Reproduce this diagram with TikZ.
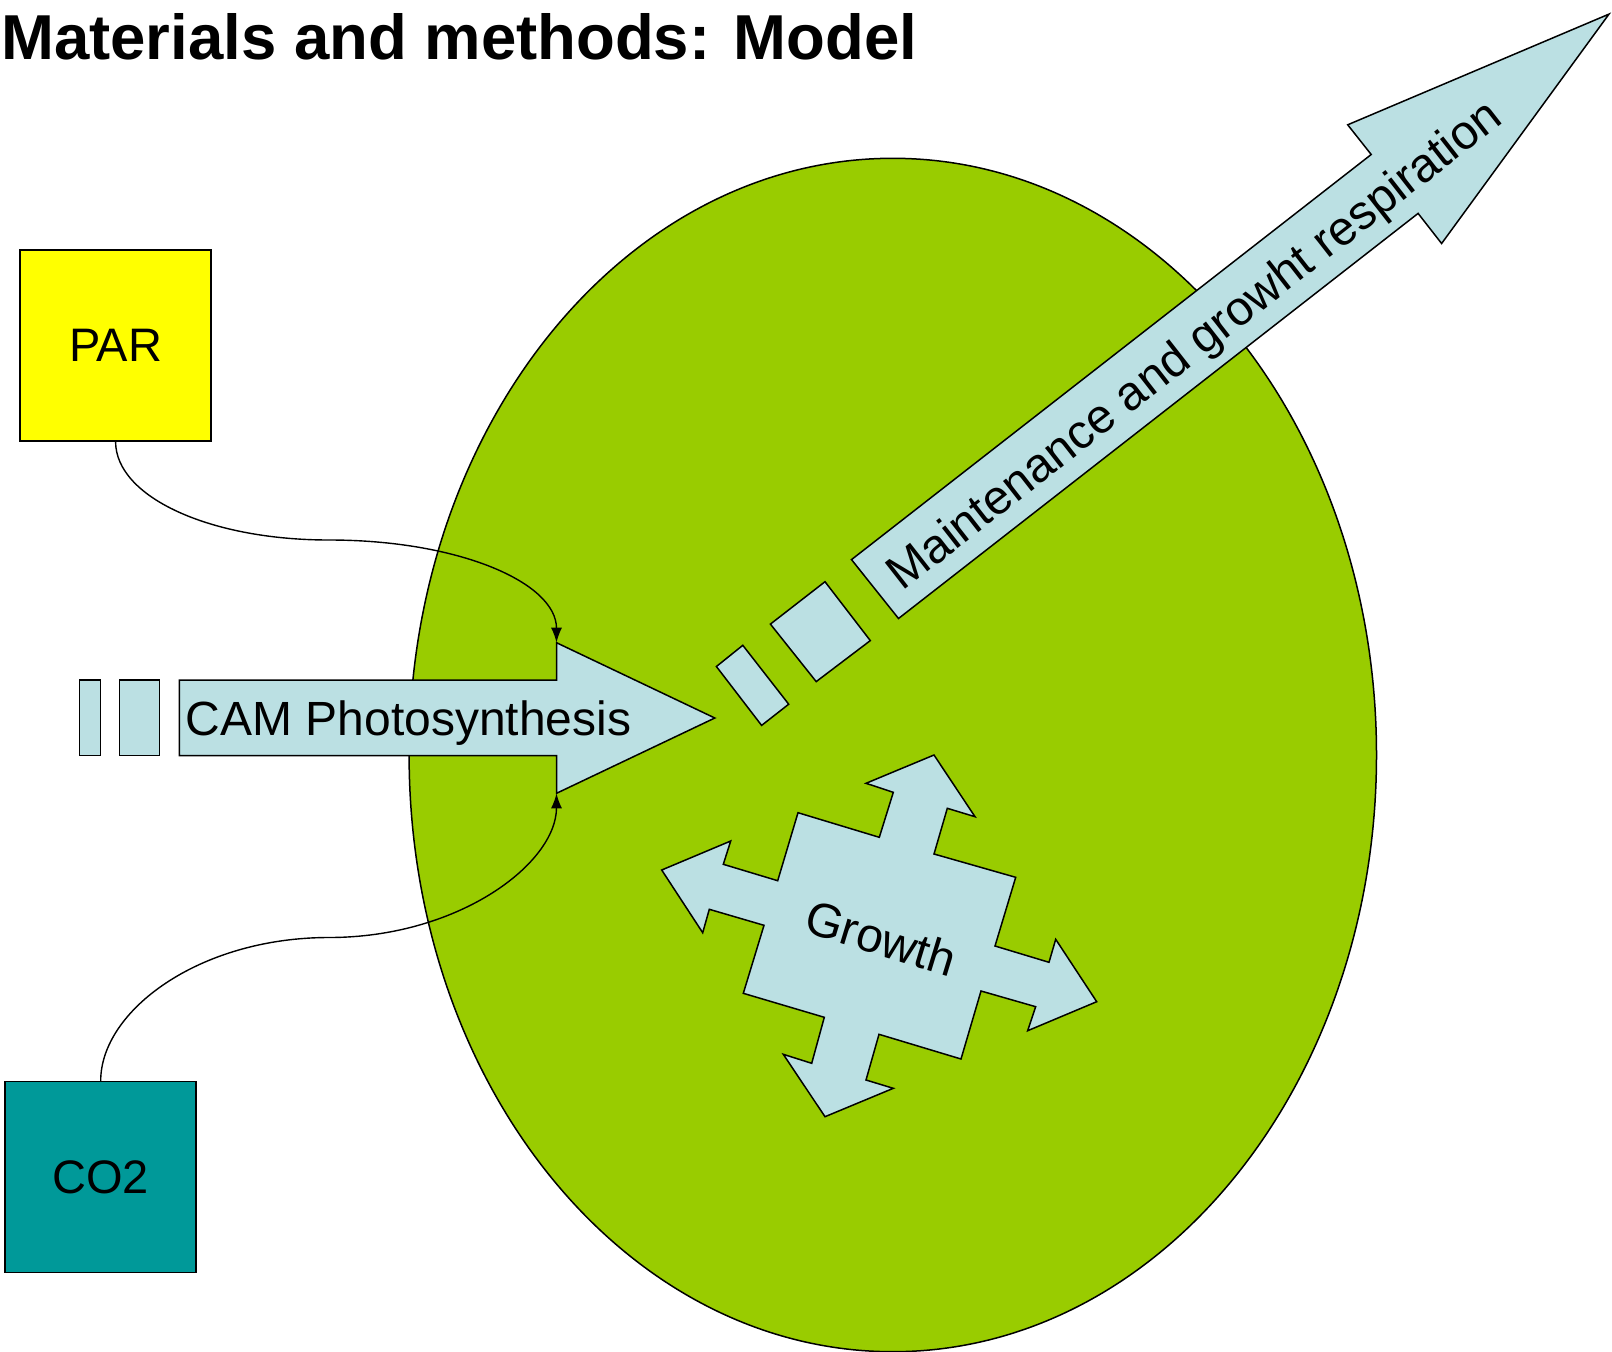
\documentclass[tikz,border=0pt]{standalone}
\usepackage{fontspec}
\setmainfont{Liberation Sans}
\usetikzlibrary{arrows.meta}
\definecolor{leafgreen}{HTML}{99CC00}
\definecolor{flowblue}{HTML}{BBE0E3}
\definecolor{paryellow}{HTML}{FFFF00}
\definecolor{co2teal}{HTML}{009999}
\begin{document}
\begin{tikzpicture}[x=1pt, y=-1pt, line width=1.5pt,
        box/.style={draw, minimum size=191pt, inner sep=0pt, font=\fontsize{47}{56}\selectfont},
        flow/.style={draw, fill=flowblue, line join=miter},
        lbl/.style={inner sep=0pt, font=\fontsize{48}{56}\selectfont},
        conn/.style={-{Latex[length=15pt,width=11pt]}, line width=1.4pt}]
        \useasboundingbox (0,0) rectangle (1612,1352);
        % plant
        \draw[fill=leafgreen] (892.8,755) ellipse [x radius=483.7, y radius=596.7];
        \node[anchor=base west, inner sep=0pt, font=\bfseries\fontsize{63.5}{70}\selectfont] (title) at (0.5,59.6) {Materials and methods: Model};
        % inputs
        \node[box, fill=paryellow] (par) at (115.6,345.4) {PAR};
        \node[box, fill=co2teal] (co2) at (100.7,1177.1) {CO2};
        % photosynthesis arrow
        \coordinate (camtop) at (556.5,642.7);
        \coordinate (cambot) at (556.5,793.3);
        \draw[flow] (79.5,680) rectangle (100.3,755.7);
        \draw[flow] (119.4,680) rectangle (159.7,755.7);
        \draw[flow] (179.3,680) -- (556.5,680) -- (camtop) -- (714.8,718) -- (cambot) -- (556.5,755.7) -- (179.3,755.7) -- cycle;
        \node[lbl, anchor=base west] (camlabel) at (185,735) {CAM Photosynthesis};
        \coordinate (parmid) at (329,540);
        \coordinate (co2mid) at (329,937.5);
        \draw[conn] (par.south) .. controls +(0,55) and +(-120,0) .. (parmid) .. controls +(130,0) and +(0,-60) .. (camtop);
        \draw[conn] (co2.north) .. controls +(0,-70) and +(-130,0) .. (co2mid) .. controls +(130,0) and +(0,70) .. (cambot);
        % respiration arrow
        \draw[flow] (716.4,666.5) -- (742.8,645.3) -- (788.7,704.2) -- (761.6,725.4) -- cycle;
        \draw[flow] (770.4,624.1) -- (825,581.7) -- (870.3,640.6) -- (816.2,681.6) -- cycle;
        \draw[flow] (851.5,559.6) -- (1371.2,154.5) -- (1347.7,124.8) -- (1609,14.1) -- (1441.6,243.5) -- (1418.1,213.4) -- (898.5,618.5) -- cycle;
        \node[lbl, rotate=38] (resplabel) at (1196,347) {Maintenance and growht respiration};
        % growth
        \draw[flow] (934,755) -- (975,816.7) -- (947.3,808.3) -- (934,854) -- (1015.7,877.3) -- (995,946)
            -- (1049,962.3) -- (1055.7,939.3) -- (1096.7,1001.7) -- (1027.7,1030.7) -- (1035.7,1006.7) -- (981,991)
            -- (961,1059) -- (879,1034.3) -- (866,1080) -- (893.3,1088.3) -- (825,1116.7) -- (783.3,1054.3)
            -- (811.7,1063.3) -- (824.3,1017.3) -- (743.3,993.3) -- (764,925.3) -- (709.3,909.3) -- (702.7,932.7)
            -- (661.7,870) -- (730.7,841) -- (723.3,864.3) -- (777.7,880.7) -- (798,812.7) -- (879.3,837.3)
            -- (893.3,792.3) -- (866,783.3) -- cycle;
        \node[lbl, rotate=-17] (growthlabel) at (881,938) {Growth};
    \end{tikzpicture}
\end{document}
